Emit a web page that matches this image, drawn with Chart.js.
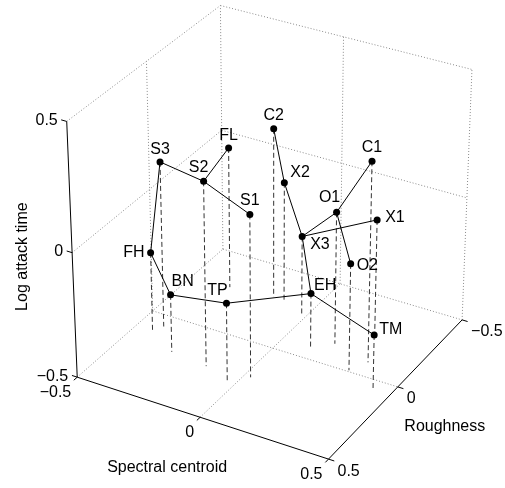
<!DOCTYPE html>
<html>
<head>
<meta charset="utf-8">
<script src="https://cdn.jsdelivr.net/npm/chart.js@4.4.1/dist/chart.umd.min.js"></script>
<style>
  html, body { margin: 0; padding: 0; background: #fff; }
  #wrap { width: 505px; height: 488px; }
</style>
</head>
<body>
<div id="wrap"><canvas id="grafico" width="505" height="488"></canvas></div>
<script>
// === DADOS: espaco tímbrico 3D ===
const instruments = ["FH", "S3", "BN", "S2", "TP", "FL", "S1", "C2", "X2", "X3", "EH", "O1", "O2", "C1", "X1", "TM"];
const spectralCentroid = [-0.428, -0.410, -0.298, -0.145, -0.028, -0.340, 0.026, -0.167, -0.124, -0.018, 0.118, 0.178, 0.303, 0.337, 0.278, 0.435];
const roughness = [0.117, 0.070, 0.198, 0.217, 0.270, -0.279, 0.201, -0.300, -0.301, -0.243, -0.064, -0.134, -0.008, -0.086, -0.247, 0.061];
const logAttackTime = [-0.177, 0.167, -0.266, 0.236, -0.179, 0.075, 0.149, 0.188, -0.016, -0.175, -0.274, 0.033, -0.070, 0.299, -0.025, -0.276];

// arvore que liga os instrumentos
const links = [
  ["S3", "FH"], ["S3", "S2"], ["S2", "FL"], ["S2", "S1"],
  ["FH", "BN"], ["BN", "TP"], ["TP", "EH"], ["EH", "TM"],
  ["EH", "X3"], ["X3", "X2"], ["X2", "C2"], ["X3", "O1"],
  ["O1", "C1"], ["O1", "O2"], ["X3", "X1"]
];

const tickValues = [-0.5, 0, 0.5];
const tickLabels = ["\u22120.5", "0", "0.5"];

// === CAMERA (perspectiva leve, como no MATLAB) ===
const AZ = 29.7 * Math.PI / 180;
const EL = 30.5 * Math.PI / 180;
const DIST = 10;
const ZSCALE = 1.015;

function project(s, r, l) {
  const z = l * ZSCALE;
  const across = s * Math.cos(AZ) - r * Math.sin(AZ);
  const toward = s * Math.sin(AZ) + r * Math.cos(AZ);
  const up = z * Math.cos(EL) - toward * Math.sin(EL);
  const depth = toward * Math.cos(EL) + z * Math.sin(EL);
  const k = DIST / (DIST - depth);
  return { x: across * k, y: up * k };
}

// posicao dos rotulos dos instrumentos (em px)
const labelPos = {
  FH: [-6, 0, "right"], S3: [0, -12, "center"], BN: [1, -13, "left"],
  S2: [-5, -14, "center"], TP: [-9, -13, "center"], FL: [0, -12, "center"],
  S1: [0, -14, "center"], C2: [0, -13, "center"], X2: [6, -10, "left"],
  X3: [8, 8, "left"], EH: [3, -8, "left"], O1: [-7, -15, "center"],
  O2: [6, 2, "left"], C1: [0, -14, "center"], X1: [8, -2, "left"],
  TM: [5, -5, "left"]
};

const FONT = '16px "Liberation Sans", Arial, Helvetica, sans-serif';

const datasets = [];
function addLine(pts, opts) {
  datasets.push(Object.assign({
    data: pts.map(p => project(p[0], p[1], p[2])),
    showLine: true,
    pointRadius: 0,
    borderWidth: 1,
    borderColor: "#000",
    fill: false,
    clip: false,
    order: 3
  }, opts));
}

// === CAIXA E GRADE (pontilhado) ===
const dotted = { borderColor: "#8a8a8a", borderDash: [1, 2], order: 6 };
const lo = -0.5, hi = 0.5;
[
  [[lo, hi, hi], [lo, lo, hi]], [[lo, lo, hi], [hi, lo, hi]],
  [[lo, lo, lo], [lo, lo, hi]], [[hi, lo, lo], [hi, lo, hi]],
  [[lo, hi, lo], [lo, lo, lo]], [[lo, lo, lo], [hi, lo, lo]],
  [[lo, 0, lo], [lo, 0, hi]], [[lo, hi, 0], [lo, lo, 0]],
  [[0, lo, lo], [0, lo, hi]], [[lo, lo, 0], [hi, lo, 0]],
  [[0, hi, lo], [0, lo, lo]], [[lo, 0, lo], [hi, 0, lo]]
].forEach(seg => addLine(seg, dotted));

// eixos solidos
addLine([[lo, hi, lo], [lo, hi, hi]], { order: 5 });
addLine([[lo, hi, lo], [hi, hi, lo]], { order: 5 });
addLine([[hi, hi, lo], [hi, lo, lo]], { order: 5 });

// marcas dos eixos
const TL = 0.022;
tickValues.forEach(t => {
  addLine([[lo, hi, t], [lo - TL, hi, t]], { order: 5 });
  addLine([[t, hi, lo], [t, hi + TL, lo]], { order: 5 });
  addLine([[hi, t, lo], [hi + TL, t, lo]], { order: 5 });
});

// === HASTES TRACEJADAS ATE O CHAO ===
instruments.forEach((n, i) => {
  addLine([[spectralCentroid[i], roughness[i], logAttackTime[i]], [spectralCentroid[i], roughness[i], lo]],
    { borderColor: "#333", borderDash: [5, 3], order: 4 });
});

// === LIGACOES ===
const idx = n => instruments.indexOf(n);
links.forEach(([a, b]) => {
  const i = idx(a), j = idx(b);
  addLine([[spectralCentroid[i], roughness[i], logAttackTime[i]], [spectralCentroid[j], roughness[j], logAttackTime[j]]], { order: 2 });
});

// === PONTOS ===
datasets.push({
  data: instruments.map((n, i) => project(spectralCentroid[i], roughness[i], logAttackTime[i])),
  showLine: false,
  pointRadius: 3.5,
  pointBackgroundColor: "#000",
  pointBorderColor: "#000",
  pointBorderWidth: 0,
  clip: false,
  order: 1
});

const textPlugin = {
  id: "rotulos",
  afterDatasetsDraw(chart) {
    const { ctx, scales: { x, y } } = chart;
    const px = (s, r, l) => {
      const p = project(s, r, l);
      return { x: x.getPixelForValue(p.x), y: y.getPixelForValue(p.y) };
    };
    ctx.save();
    ctx.fillStyle = "#000";
    ctx.font = FONT;
    ctx.textBaseline = "middle";

    tickValues.forEach((t, k) => {
      let p = px(lo, hi, t);
      ctx.textAlign = "right";
      ctx.fillText(tickLabels[k], p.x - 9, p.y - 1);
      p = px(t, hi, lo);
      ctx.fillText(tickLabels[k], p.x - 6, p.y + 15);
      p = px(hi, t, lo);
      ctx.textAlign = "left";
      ctx.fillText(tickLabels[k], p.x + 9, p.y + 12);
    });

    ctx.textAlign = "center";
    let p = px(0, hi, lo);
    ctx.fillText("Spectral centroid", p.x - 33, p.y + 50);
    p = px(hi, 0, lo);
    ctx.fillText("Roughness", p.x + 47, p.y + 40);
    p = px(lo, hi, 0);
    ctx.save();
    ctx.translate(p.x - 50, p.y + 4);
    ctx.rotate(-Math.PI / 2);
    ctx.fillText("Log attack time", 0, 0);
    ctx.restore();

    instruments.forEach((n, i) => {
      const q = px(spectralCentroid[i], roughness[i], logAttackTime[i]);
      const [dx, dy, al] = labelPos[n];
      ctx.textAlign = al;
      ctx.fillText(n, q.x + dx, q.y + dy);
    });
    ctx.restore();
  }
};

new Chart(document.getElementById("grafico").getContext("2d"), {
  type: "scatter",
  data: { datasets },
  options: {
    responsive: false,
    animation: false,
    events: [],
    layout: { padding: 0 },
    plugins: { legend: { display: false }, tooltip: { enabled: false } },
    scales: {
      x: { display: false, min: -0.9286, max: 0.7891 },
      y: { display: false, min: -0.8963, max: 0.7636 }
    }
  },
  plugins: [textPlugin]
});
</script>
</body>
</html>
